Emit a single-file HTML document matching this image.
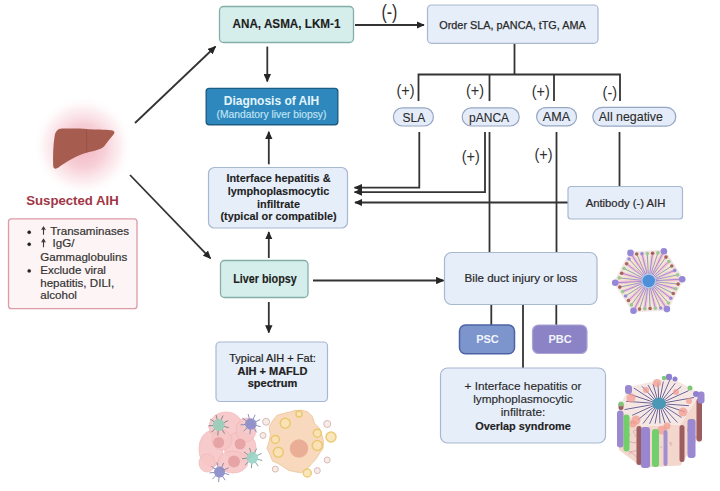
<!DOCTYPE html>
<html><head><meta charset="utf-8">
<style>
html,body{margin:0;padding:0;background:#fff;}
body{width:720px;height:491px;overflow:hidden;position:relative;font-family:"Liberation Sans",sans-serif;}
svg{position:absolute;left:0;top:0;}
text{font-family:"Liberation Sans",sans-serif;}
</style></head>
<body>
<svg width="720" height="491" viewBox="0 0 720 491">
<defs>
  <radialGradient id="glow" cx="0.5" cy="0.5" r="0.5">
    <stop offset="0" stop-color="#f3b2c0" stop-opacity="1"/>
    <stop offset="0.45" stop-color="#f6c8d1" stop-opacity="0.85"/>
    <stop offset="0.75" stop-color="#fae0e5" stop-opacity="0.5"/>
    <stop offset="1" stop-color="#ffffff" stop-opacity="0"/>
  </radialGradient>
  <filter id="soft" x="-10%" y="-10%" width="120%" height="120%"><feGaussianBlur stdDeviation="0.7"/></filter>
  <marker id="ah" viewBox="0 0 10 9" refX="9" refY="4.5" markerWidth="4.6" markerHeight="4.14" orient="auto-start-reverse" markerUnits="strokeWidth">
    <path d="M0,0 L10,4.5 L0,9 z" fill="#262626"/>
  </marker>
</defs>

<!-- liver glow -->
<circle cx="83" cy="146" r="50" fill="url(#glow)"/>
<!-- liver -->
<path d="M62,128.6 C75,128.3 86,128.6 88,129.2 C95,129.4 105,129.6 111,130.2 C114.5,130.6 115.3,132 113.5,134.5 C110,138.5 107,142.5 104,146.5 C100,150 93,151.2 87,152.6 C77,155.2 66,162 58.5,167.6 C55.5,169.6 53.3,168.8 53.2,165.5 C52.8,156 53.2,145 54.6,136.5 C55.4,131.5 57.5,128.8 62,128.6 Z" fill="#a65c4e"/>
<path d="M86.5,130 C86.8,138 86.6,146 86.8,153" stroke="#8a4a3e" stroke-width="0.6" fill="none" opacity="0.8"/>

<text x="72.5" y="205" font-size="13.2" font-weight="bold" fill="#a03646" text-anchor="middle">Suspected AIH</text>

<!-- bullet box -->
<rect x="8.5" y="218.8" width="128.5" height="89.9" rx="3" fill="#fdf4f5" stroke="#dc9ca8" stroke-width="1.3"/>
<g font-size="11.6" fill="#333" stroke="#333" stroke-width="0.2">
  <circle cx="29.2" cy="232.3" r="1.7" fill="#222"/>
  <circle cx="29.2" cy="244.3" r="1.7" fill="#222"/>
  <circle cx="29.2" cy="270.9" r="1.7" fill="#222"/>
  <path d="M43.5,234.8 V227.6 M41.7,230 L43.5,227 L45.3,230" stroke="#383838" stroke-width="1.1" fill="none"/>
  <path d="M43.5,247.2 V240 M41.7,242.4 L43.5,239.4 L45.3,242.4" stroke="#383838" stroke-width="1.1" fill="none"/>
  <text x="50.2" y="234.8">Transaminases</text>
  <text x="52.6" y="247.2">IgG/</text>
  <text x="40.2" y="260.5">Gammaglobulins</text>
  <text x="40.2" y="274">Exclude viral</text>
  <text x="40.2" y="286.8">hepatitis, DILI,</text>
  <text x="40.2" y="299.3">alcohol</text>
</g>

<!-- lines/arrows -->
<g stroke="#333" stroke-width="1.8" fill="none">
  <line x1="135" y1="123" x2="215.5" y2="46.5" marker-end="url(#ah)"/>
  <line x1="130" y1="175" x2="210.5" y2="258.5" marker-end="url(#ah)"/>
  <line x1="267.3" y1="46.6" x2="267.3" y2="81.5" marker-end="url(#ah)"/>
  <line x1="268.8" y1="164.3" x2="268.8" y2="131.8" marker-end="url(#ah)"/>
  <line x1="268.8" y1="258" x2="268.8" y2="232" marker-end="url(#ah)"/>
  <line x1="268.8" y1="302" x2="268.8" y2="332.6" marker-end="url(#ah)"/>
  <line x1="313" y1="280.5" x2="443.5" y2="280.5" marker-end="url(#ah)"/>
  <line x1="355" y1="25" x2="424" y2="25" marker-end="url(#ah)"/>
  <!-- tree -->
  <line x1="514.5" y1="43" x2="514.5" y2="74.5"/>
  <polyline points="418.5,101 418.5,74.5 620,74.5 620,101"/>
  <line x1="489.5" y1="74.5" x2="489.5" y2="101"/>
  <line x1="554" y1="74.5" x2="554" y2="101"/>
  <!-- from pills -->
  <polyline points="419.3,132 419.3,187.7 354.5,187.7" marker-end="url(#ah)"/>
  <polyline points="485,132 485,192.1 354.5,192.1" marker-end="url(#ah)"/>
  <line x1="489.5" y1="132" x2="489.5" y2="252.5"/>
  <line x1="556.5" y1="132" x2="556.5" y2="252.5"/>
  <line x1="568" y1="202.5" x2="355" y2="202.5" marker-end="url(#ah)"/>
  <line x1="619.5" y1="132" x2="619.5" y2="186.5"/>
  <!-- below bile duct -->
  <line x1="491.3" y1="304.5" x2="491.3" y2="325"/>
  <line x1="523" y1="304.5" x2="523" y2="368"/>
  <line x1="556.3" y1="304.5" x2="556.3" y2="325"/>
</g>

<!-- ANA box -->
<rect x="219.5" y="6.5" width="134" height="36" rx="4" fill="#d5eeeb" stroke="#84aea8" stroke-width="1.3"/>
<text transform="translate(286.5,27.9) scale(1,1.1)" font-size="11.7" font-weight="bold" fill="#1e1e1e" stroke="#1e1e1e" stroke-width="0.12" text-anchor="middle">ANA, ASMA, LKM-1</text>

<text x="0" y="0" font-size="16" fill="#2e2e2e" text-anchor="middle" transform="translate(389.4,18.8) scale(1,1.22)">(-)</text>

<!-- Order box -->
<rect x="427.5" y="5" width="170.5" height="38.3" rx="4" fill="#e6eefa" stroke="#a8b8d0" stroke-width="1.2"/>
<text x="512.5" y="28.5" font-size="10.85" fill="#2a2a2a" stroke="#2a2a2a" stroke-width="0.25" text-anchor="middle">Order SLA, pANCA, tTG, AMA</text>

<!-- Diagnosis box -->
<rect x="206.2" y="88.4" width="131.6" height="36.4" rx="3" fill="#2e88bd" stroke="#1d5d84" stroke-width="1.4"/>
<text x="271.5" y="104.6" font-size="12" font-weight="bold" fill="#e4f5fc" text-anchor="middle">Diagnosis of AIH</text>
<text x="271.5" y="117.8" font-size="10.3" fill="#c2e4f4" stroke="#c2e4f4" stroke-width="0.15" text-anchor="middle">(Mandatory liver biopsy)</text>

<!-- (+) labels -->
<g font-size="14.5" fill="#303030" text-anchor="middle">
  <text transform="translate(405.6,96.3) scale(1,1.12)">(+)</text>
  <text transform="translate(475,95.6) scale(1,1.12)">(+)</text>
  <text transform="translate(540.8,97.3) scale(1,1.12)">(+)</text>
  <text transform="translate(609.8,97.8) scale(1,1.12)">(-)</text>
  <text transform="translate(470.8,161.7) scale(1,1.12)">(+)</text>
  <text transform="translate(543.6,159.8) scale(1,1.12)">(+)</text>
</g>

<!-- pills -->
<g fill="#e4ecf9" stroke="#95a6c2" stroke-width="1.2">
  <rect x="393.4" y="107.8" width="40" height="18.2" rx="9.1"/>
  <rect x="462.2" y="107.8" width="57" height="18.2" rx="9.1"/>
  <rect x="536.6" y="107.6" width="40" height="18.2" rx="9.1"/>
  <rect x="592.8" y="107.3" width="83" height="18.8" rx="9.4"/>
</g>
<g font-size="12" fill="#2a2a2a" stroke="#2a2a2a" stroke-width="0.1" text-anchor="middle">
  <text x="413.8" y="121.6">SLA</text>
  <text x="489.1" y="121.6">pANCA</text>
  <text x="556.5" y="120.8" font-size="12.6">AMA</text>
  <text x="630.9" y="120.9" font-size="12.4">All negative</text>
</g>

<!-- Interface box -->
<rect x="208.5" y="167.5" width="139" height="60.5" rx="6" fill="#e6eefa" stroke="#a8b8d0" stroke-width="1.2"/>
<g font-size="10.9" font-weight="bold" fill="#1e1e1e" stroke="#1e1e1e" stroke-width="0.12" text-anchor="middle">
  <text x="278.5" y="182">Interface hepatitis &amp;</text>
  <text x="278.5" y="194.5">lymphoplasmocytic</text>
  <text x="278.5" y="207.5">infiltrate</text>
  <text x="278.5" y="220.2">(typical or compatible)</text>
</g>

<!-- Antibody box -->
<rect x="568" y="186.5" width="114.5" height="32.5" rx="3" fill="#e6eefa" stroke="#a8b8d0" stroke-width="1.2"/>
<text x="625.5" y="206.5" font-size="11.3" fill="#2a2a2a" stroke="#2a2a2a" stroke-width="0.22" text-anchor="middle">Antibody (-) AIH</text>

<!-- Liver biopsy -->
<rect x="220.5" y="260.5" width="87.5" height="37" rx="4" fill="#d5eeeb" stroke="#84aea8" stroke-width="1.3"/>
<text transform="translate(265,282.6) scale(1,1.1)" font-size="10.8" font-weight="bold" fill="#1e1e1e" stroke="#1e1e1e" stroke-width="0.12" text-anchor="middle">Liver biopsy</text>

<!-- Bile duct -->
<rect x="444.5" y="252.5" width="152.5" height="52" rx="7" fill="#e6eefa" stroke="#a8b8d0" stroke-width="1.2"/>
<text x="521" y="282" font-size="11.6" fill="#2a2a2a" stroke="#2a2a2a" stroke-width="0.22" text-anchor="middle">Bile duct injury or loss</text>

<!-- PSC/PBC -->
<rect x="459.5" y="325" width="55" height="28.7" rx="6" fill="#7d95cd" stroke="#4b63a3" stroke-width="1.5"/>
<text x="487.5" y="343" font-size="11" font-weight="bold" fill="#f2f4fb" text-anchor="middle">PSC</text>
<rect x="532.5" y="325" width="54.5" height="28.5" rx="6" fill="#8b83c6" stroke="#a9a3d6" stroke-width="1.2"/>
<text x="560" y="343" font-size="11" font-weight="bold" fill="#f2f4fb" text-anchor="middle">PBC</text>

<!-- Typical AIH + Fat -->
<rect x="216" y="342" width="111.5" height="59.5" rx="4" fill="#e6eefa" stroke="#a8b8d0" stroke-width="1.2"/>
<g font-size="11" fill="#222" stroke="#222" stroke-width="0.2" text-anchor="middle">
  <text x="272.5" y="362">Typical AIH + Fat:</text>
  <text x="272.5" y="374.8" font-weight="bold">AIH + MAFLD</text>
  <text x="272.5" y="387.3" font-weight="bold">spectrum</text>
</g>

<!-- Overlap box -->
<rect x="440.5" y="368" width="165" height="75" rx="7" fill="#e6eefa" stroke="#a8b8d0" stroke-width="1.2"/>
<g font-size="11.8" fill="#2a2a2a" stroke="#2a2a2a" stroke-width="0.15" text-anchor="middle">
  <text x="523" y="389.8">+ Interface hepatitis or</text>
  <text x="523" y="403">lymphoplasmocytic</text>
  <text x="523" y="416.3">infiltrate:</text>
  <text x="523" y="429.8" font-weight="bold" font-size="10.9" fill="#222">Overlap syndrome</text>
</g>

<!-- ILLUSTRATIONS -->
<g id="hex1" filter="url(#soft)">
<polygon points="682.2,279.2 663.9,251.2 630.5,252.9 615.2,282.8 633.5,310.8 666.9,309.1" fill="#f7e6e6" stroke="#f3e4e4" stroke-width="3" stroke-linejoin="round"/>
<line x1="653.7" y1="280.7" x2="682.2" y2="279.2" stroke="#f4c2d2" stroke-width="3.4"/>
<line x1="653.6" y1="280.0" x2="677.6" y2="274.9" stroke="#eeecc0" stroke-width="3.4"/>
<line x1="653.3" y1="279.1" x2="674.7" y2="270.4" stroke="#f2c8d6" stroke-width="3.4"/>
<line x1="652.9" y1="278.3" x2="671.8" y2="266.0" stroke="#e6efc2" stroke-width="3.4"/>
<line x1="652.3" y1="277.5" x2="668.9" y2="261.5" stroke="#f5c6d4" stroke-width="3.4"/>
<line x1="651.6" y1="277.0" x2="666.0" y2="257.1" stroke="#efe9c0" stroke-width="3.4"/>
<line x1="651.0" y1="276.5" x2="663.9" y2="251.2" stroke="#f4c2d2" stroke-width="3.4"/>
<line x1="650.2" y1="276.2" x2="657.9" y2="252.9" stroke="#eeecc0" stroke-width="3.4"/>
<line x1="649.4" y1="276.0" x2="652.6" y2="253.2" stroke="#f2c8d6" stroke-width="3.4"/>
<line x1="648.4" y1="276.0" x2="647.3" y2="253.5" stroke="#e6efc2" stroke-width="3.4"/>
<line x1="647.5" y1="276.1" x2="642.0" y2="253.8" stroke="#f5c6d4" stroke-width="3.4"/>
<line x1="646.7" y1="276.4" x2="636.7" y2="254.0" stroke="#efe9c0" stroke-width="3.4"/>
<line x1="646.0" y1="276.8" x2="630.5" y2="252.9" stroke="#f4c2d2" stroke-width="3.4"/>
<line x1="645.4" y1="277.3" x2="629.0" y2="259.0" stroke="#eeecc0" stroke-width="3.4"/>
<line x1="644.8" y1="277.9" x2="626.6" y2="263.8" stroke="#f2c8d6" stroke-width="3.4"/>
<line x1="644.2" y1="278.7" x2="624.1" y2="268.5" stroke="#e6efc2" stroke-width="3.4"/>
<line x1="643.9" y1="279.6" x2="621.7" y2="273.2" stroke="#f5c6d4" stroke-width="3.4"/>
<line x1="643.7" y1="280.5" x2="619.3" y2="277.9" stroke="#efe9c0" stroke-width="3.4"/>
<line x1="643.7" y1="281.3" x2="615.2" y2="282.8" stroke="#f4c2d2" stroke-width="3.4"/>
<line x1="643.8" y1="282.0" x2="619.8" y2="287.1" stroke="#eeecc0" stroke-width="3.4"/>
<line x1="644.1" y1="282.9" x2="622.7" y2="291.6" stroke="#f2c8d6" stroke-width="3.4"/>
<line x1="644.5" y1="283.7" x2="625.6" y2="296.0" stroke="#e6efc2" stroke-width="3.4"/>
<line x1="645.1" y1="284.5" x2="628.5" y2="300.5" stroke="#f5c6d4" stroke-width="3.4"/>
<line x1="645.8" y1="285.0" x2="631.4" y2="304.9" stroke="#efe9c0" stroke-width="3.4"/>
<line x1="646.4" y1="285.5" x2="633.5" y2="310.8" stroke="#f4c2d2" stroke-width="3.4"/>
<line x1="647.2" y1="285.8" x2="639.5" y2="309.1" stroke="#eeecc0" stroke-width="3.4"/>
<line x1="648.0" y1="286.0" x2="644.8" y2="308.8" stroke="#f2c8d6" stroke-width="3.4"/>
<line x1="649.0" y1="286.0" x2="650.1" y2="308.5" stroke="#e6efc2" stroke-width="3.4"/>
<line x1="649.9" y1="285.9" x2="655.4" y2="308.2" stroke="#f5c6d4" stroke-width="3.4"/>
<line x1="650.7" y1="285.6" x2="660.7" y2="308.0" stroke="#efe9c0" stroke-width="3.4"/>
<line x1="651.4" y1="285.2" x2="666.9" y2="309.1" stroke="#f4c2d2" stroke-width="3.4"/>
<line x1="652.0" y1="284.7" x2="668.4" y2="303.0" stroke="#eeecc0" stroke-width="3.4"/>
<line x1="652.6" y1="284.1" x2="670.8" y2="298.2" stroke="#f2c8d6" stroke-width="3.4"/>
<line x1="653.2" y1="283.3" x2="673.3" y2="293.5" stroke="#e6efc2" stroke-width="3.4"/>
<line x1="653.5" y1="282.4" x2="675.7" y2="288.8" stroke="#f5c6d4" stroke-width="3.4"/>
<line x1="653.7" y1="281.5" x2="678.1" y2="284.1" stroke="#efe9c0" stroke-width="3.4"/>
<path d="M653.7,280.7 L667.1,280.0 L682.2,279.2" stroke="#9a86d2" stroke-width="0.9" fill="none"/>
<path d="M653.6,280.0 L664.6,277.6 L677.6,274.9" stroke="#9a86d2" stroke-width="0.9" fill="none"/>
<path d="M653.3,279.1 L663.0,275.2 L674.7,270.4" stroke="#9a86d2" stroke-width="0.9" fill="none"/>
<path d="M652.9,278.3 L661.4,272.7 L671.8,266.0" stroke="#9a86d2" stroke-width="0.9" fill="none"/>
<path d="M652.3,277.5 L659.8,270.3 L668.9,261.5" stroke="#9a86d2" stroke-width="0.9" fill="none"/>
<path d="M651.6,277.0 L658.2,267.9 L666.0,257.1" stroke="#9a86d2" stroke-width="0.9" fill="none"/>
<path d="M651.0,276.5 L657.1,264.6 L663.9,251.2" stroke="#9a86d2" stroke-width="0.9" fill="none"/>
<path d="M650.2,276.2 L653.7,265.6 L657.9,252.9" stroke="#9a86d2" stroke-width="0.9" fill="none"/>
<path d="M649.4,276.0 L650.8,265.7 L652.6,253.2" stroke="#9a86d2" stroke-width="0.9" fill="none"/>
<path d="M648.4,276.0 L647.9,265.9 L647.3,253.5" stroke="#9a86d2" stroke-width="0.9" fill="none"/>
<path d="M647.5,276.1 L645.0,266.0 L642.0,253.8" stroke="#9a86d2" stroke-width="0.9" fill="none"/>
<path d="M646.7,276.4 L642.1,266.2 L636.7,254.0" stroke="#9a86d2" stroke-width="0.9" fill="none"/>
<path d="M646.0,276.8 L638.7,265.5 L630.5,252.9" stroke="#9a86d2" stroke-width="0.9" fill="none"/>
<path d="M645.4,277.3 L637.8,268.9 L629.0,259.0" stroke="#9a86d2" stroke-width="0.9" fill="none"/>
<path d="M644.8,277.9 L636.5,271.5 L626.6,263.8" stroke="#9a86d2" stroke-width="0.9" fill="none"/>
<path d="M644.2,278.7 L635.2,274.1 L624.1,268.5" stroke="#9a86d2" stroke-width="0.9" fill="none"/>
<path d="M643.9,279.6 L633.9,276.7 L621.7,273.2" stroke="#9a86d2" stroke-width="0.9" fill="none"/>
<path d="M643.7,280.5 L632.5,279.3 L619.3,277.9" stroke="#9a86d2" stroke-width="0.9" fill="none"/>
<path d="M643.7,281.3 L630.3,282.0 L615.2,282.8" stroke="#9a86d2" stroke-width="0.9" fill="none"/>
<path d="M643.8,282.0 L632.8,284.4 L619.8,287.1" stroke="#9a86d2" stroke-width="0.9" fill="none"/>
<path d="M644.1,282.9 L634.4,286.8 L622.7,291.6" stroke="#9a86d2" stroke-width="0.9" fill="none"/>
<path d="M644.5,283.7 L636.0,289.3 L625.6,296.0" stroke="#9a86d2" stroke-width="0.9" fill="none"/>
<path d="M645.1,284.5 L637.6,291.7 L628.5,300.5" stroke="#9a86d2" stroke-width="0.9" fill="none"/>
<path d="M645.8,285.0 L639.2,294.1 L631.4,304.9" stroke="#9a86d2" stroke-width="0.9" fill="none"/>
<path d="M646.4,285.5 L640.3,297.4 L633.5,310.8" stroke="#9a86d2" stroke-width="0.9" fill="none"/>
<path d="M647.2,285.8 L643.7,296.4 L639.5,309.1" stroke="#9a86d2" stroke-width="0.9" fill="none"/>
<path d="M648.0,286.0 L646.6,296.3 L644.8,308.8" stroke="#9a86d2" stroke-width="0.9" fill="none"/>
<path d="M649.0,286.0 L649.5,296.1 L650.1,308.5" stroke="#9a86d2" stroke-width="0.9" fill="none"/>
<path d="M649.9,285.9 L652.4,296.0 L655.4,308.2" stroke="#9a86d2" stroke-width="0.9" fill="none"/>
<path d="M650.7,285.6 L655.3,295.8 L660.7,308.0" stroke="#9a86d2" stroke-width="0.9" fill="none"/>
<path d="M651.4,285.2 L658.7,296.5 L666.9,309.1" stroke="#9a86d2" stroke-width="0.9" fill="none"/>
<path d="M652.0,284.7 L659.6,293.1 L668.4,303.0" stroke="#9a86d2" stroke-width="0.9" fill="none"/>
<path d="M652.6,284.1 L660.9,290.5 L670.8,298.2" stroke="#9a86d2" stroke-width="0.9" fill="none"/>
<path d="M653.2,283.3 L662.2,287.9 L673.3,293.5" stroke="#9a86d2" stroke-width="0.9" fill="none"/>
<path d="M653.5,282.4 L663.5,285.3 L675.7,288.8" stroke="#9a86d2" stroke-width="0.9" fill="none"/>
<path d="M653.7,281.5 L664.9,282.7 L678.1,284.1" stroke="#9a86d2" stroke-width="0.9" fill="none"/>
<circle cx="682.2" cy="279.2" r="3.3" fill="#9588d8"/>
<circle cx="677.6" cy="274.9" r="1.8" fill="#9dcb8f"/>
<circle cx="674.7" cy="270.4" r="1.8" fill="#9a8bd8"/>
<circle cx="671.8" cy="266.0" r="1.8" fill="#a8685e"/>
<circle cx="668.9" cy="261.5" r="1.8" fill="#98c88c"/>
<circle cx="666.0" cy="257.1" r="1.8" fill="#a5605a"/>
<circle cx="663.9" cy="251.2" r="3.3" fill="#9588d8"/>
<circle cx="657.9" cy="252.9" r="1.8" fill="#98c88c"/>
<circle cx="652.6" cy="253.2" r="1.8" fill="#a5605a"/>
<circle cx="647.3" cy="253.5" r="1.8" fill="#9dcb8f"/>
<circle cx="642.0" cy="253.8" r="1.8" fill="#9a8bd8"/>
<circle cx="636.7" cy="254.0" r="1.8" fill="#a8685e"/>
<circle cx="630.5" cy="252.9" r="3.3" fill="#9588d8"/>
<circle cx="629.0" cy="259.0" r="1.8" fill="#9a8bd8"/>
<circle cx="626.6" cy="263.8" r="1.8" fill="#a8685e"/>
<circle cx="624.1" cy="268.5" r="1.8" fill="#98c88c"/>
<circle cx="621.7" cy="273.2" r="1.8" fill="#a5605a"/>
<circle cx="619.3" cy="277.9" r="1.8" fill="#9dcb8f"/>
<circle cx="615.2" cy="282.8" r="3.3" fill="#9588d8"/>
<circle cx="619.8" cy="287.1" r="1.8" fill="#a5605a"/>
<circle cx="622.7" cy="291.6" r="1.8" fill="#9dcb8f"/>
<circle cx="625.6" cy="296.0" r="1.8" fill="#9a8bd8"/>
<circle cx="628.5" cy="300.5" r="1.8" fill="#a8685e"/>
<circle cx="631.4" cy="304.9" r="1.8" fill="#98c88c"/>
<circle cx="633.5" cy="310.8" r="3.3" fill="#9588d8"/>
<circle cx="639.5" cy="309.1" r="1.8" fill="#a8685e"/>
<circle cx="644.8" cy="308.8" r="1.8" fill="#98c88c"/>
<circle cx="650.1" cy="308.5" r="1.8" fill="#a5605a"/>
<circle cx="655.4" cy="308.2" r="1.8" fill="#9dcb8f"/>
<circle cx="660.7" cy="308.0" r="1.8" fill="#9a8bd8"/>
<circle cx="666.9" cy="309.1" r="3.3" fill="#9588d8"/>
<circle cx="668.4" cy="303.0" r="1.8" fill="#9dcb8f"/>
<circle cx="670.8" cy="298.2" r="1.8" fill="#9a8bd8"/>
<circle cx="673.3" cy="293.5" r="1.8" fill="#a8685e"/>
<circle cx="675.7" cy="288.8" r="1.8" fill="#98c88c"/>
<circle cx="678.1" cy="284.1" r="1.8" fill="#a5605a"/>
<circle cx="648.7" cy="281.0" r="7.4" fill="#b3d0f0" opacity="0.8"/>
<circle cx="648.7" cy="281.0" r="6.2" fill="#4b90d8"/>
</g>
<g id="prism" filter="url(#soft)">
<clipPath id="pclip"><polygon points="619.0,409.0 642.5,426.5 680.5,424.5 700.0,393.5 700.0,434.5 680.5,465.5 642.5,467.5 619.0,450.0"/></clipPath>
<polygon points="619.0,409.0 642.5,426.5 680.5,424.5 700.0,393.5 700.0,434.5 680.5,465.5 642.5,467.5 619.0,450.0" fill="#f3d7cc"/>
<g clip-path="url(#pclip)"><path d="M656.4,443.5 q5.1,-0.3 0.2,2.3 M636.0,441.5 q1.6,2.9 -8.1,-0.3 M628.9,454.0 q2.3,-4.6 9.6,5.7 M671.7,445.9 q-4.1,-4.8 0.6,-2.5 M636.5,430.2 q-5.6,-0.4 -1.2,4.6 M661.5,446.9 q-0.0,1.6 -0.9,-0.5 M697.8,461.8 q4.1,2.1 -3.7,-0.9 M644.0,422.9 q3.2,-1.0 6.9,0.5 M694.8,455.6 q-6.0,-2.9 8.2,1.2 M696.5,436.7 q-5.1,1.3 5.6,-0.6 M628.6,434.0 q5.6,2.6 -7.6,-0.8 M629.7,422.5 q3.6,-3.2 1.2,1.0 M636.5,450.7 q-4.4,1.4 -7.7,0.8 M638.2,431.3 q5.7,3.0 -3.9,5.0" stroke="#c48aa0" stroke-width="0.8" fill="none" opacity="0.7"/></g>
<circle cx="662" cy="430" r="4.5" fill="#f19a8e" opacity="0.7"/>
<circle cx="633" cy="424" r="3.5" fill="#f19a8e" opacity="0.7"/>
<circle cx="690" cy="430" r="3" fill="#f19a8e" opacity="0.7"/>
<polygon points="671.0,377.5 628.5,387.0 619.0,409.0 642.5,426.5 680.5,424.5 700.0,393.5" fill="#f6e6e2"/>
<line x1="664.0" y1="403.9" x2="688.9" y2="405.7" stroke="#f4f0f4" stroke-width="2.2"/>
<line x1="664.0" y1="403.9" x2="688.9" y2="405.7" stroke="#6e5e8a" stroke-width="1"/>
<line x1="663.8" y1="404.8" x2="684.9" y2="411.9" stroke="#f4f0f4" stroke-width="2.2"/>
<line x1="663.8" y1="404.8" x2="684.9" y2="411.9" stroke="#6e5e8a" stroke-width="1"/>
<line x1="663.3" y1="405.7" x2="681.5" y2="417.5" stroke="#f4f0f4" stroke-width="2.2"/>
<line x1="663.3" y1="405.7" x2="681.5" y2="417.5" stroke="#6e5e8a" stroke-width="1"/>
<line x1="662.5" y1="406.5" x2="677.5" y2="422.5" stroke="#f4f0f4" stroke-width="2.2"/>
<line x1="662.5" y1="406.5" x2="677.5" y2="422.5" stroke="#6e5e8a" stroke-width="1"/>
<line x1="661.5" y1="407.0" x2="670.4" y2="422.8" stroke="#f4f0f4" stroke-width="2.2"/>
<line x1="661.5" y1="407.0" x2="670.4" y2="422.8" stroke="#6e5e8a" stroke-width="1"/>
<line x1="660.4" y1="407.4" x2="664.9" y2="423.1" stroke="#f4f0f4" stroke-width="2.2"/>
<line x1="660.4" y1="407.4" x2="664.9" y2="423.1" stroke="#6e5e8a" stroke-width="1"/>
<line x1="659.3" y1="407.6" x2="660.0" y2="423.4" stroke="#f4f0f4" stroke-width="2.2"/>
<line x1="659.3" y1="407.6" x2="660.0" y2="423.4" stroke="#6e5e8a" stroke-width="1"/>
<line x1="658.1" y1="407.5" x2="655.1" y2="423.6" stroke="#f4f0f4" stroke-width="2.2"/>
<line x1="658.1" y1="407.5" x2="655.1" y2="423.6" stroke="#6e5e8a" stroke-width="1"/>
<line x1="656.9" y1="407.2" x2="649.6" y2="423.9" stroke="#f4f0f4" stroke-width="2.2"/>
<line x1="656.9" y1="407.2" x2="649.6" y2="423.9" stroke="#6e5e8a" stroke-width="1"/>
<line x1="655.9" y1="406.7" x2="643.1" y2="423.5" stroke="#f4f0f4" stroke-width="2.2"/>
<line x1="655.9" y1="406.7" x2="643.1" y2="423.5" stroke="#6e5e8a" stroke-width="1"/>
<line x1="655.0" y1="406.0" x2="638.1" y2="419.7" stroke="#f4f0f4" stroke-width="2.2"/>
<line x1="655.0" y1="406.0" x2="638.1" y2="419.7" stroke="#6e5e8a" stroke-width="1"/>
<line x1="654.4" y1="405.2" x2="632.2" y2="415.3" stroke="#f4f0f4" stroke-width="2.2"/>
<line x1="654.4" y1="405.2" x2="632.2" y2="415.3" stroke="#6e5e8a" stroke-width="1"/>
<line x1="654.1" y1="404.3" x2="624.5" y2="409.6" stroke="#f4f0f4" stroke-width="2.2"/>
<line x1="654.1" y1="404.3" x2="624.5" y2="409.6" stroke="#6e5e8a" stroke-width="1"/>
<line x1="654.0" y1="403.3" x2="626.1" y2="401.3" stroke="#f4f0f4" stroke-width="2.2"/>
<line x1="654.0" y1="403.3" x2="626.1" y2="401.3" stroke="#6e5e8a" stroke-width="1"/>
<line x1="654.2" y1="402.4" x2="629.2" y2="394.0" stroke="#f4f0f4" stroke-width="2.2"/>
<line x1="654.2" y1="402.4" x2="629.2" y2="394.0" stroke="#6e5e8a" stroke-width="1"/>
<line x1="654.7" y1="401.5" x2="633.9" y2="388.1" stroke="#f4f0f4" stroke-width="2.2"/>
<line x1="654.7" y1="401.5" x2="633.9" y2="388.1" stroke="#6e5e8a" stroke-width="1"/>
<line x1="655.5" y1="400.7" x2="642.0" y2="386.3" stroke="#f4f0f4" stroke-width="2.2"/>
<line x1="655.5" y1="400.7" x2="642.0" y2="386.3" stroke="#6e5e8a" stroke-width="1"/>
<line x1="656.5" y1="400.2" x2="648.0" y2="385.0" stroke="#f4f0f4" stroke-width="2.2"/>
<line x1="656.5" y1="400.2" x2="648.0" y2="385.0" stroke="#6e5e8a" stroke-width="1"/>
<line x1="657.6" y1="399.8" x2="653.0" y2="383.9" stroke="#f4f0f4" stroke-width="2.2"/>
<line x1="657.6" y1="399.8" x2="653.0" y2="383.9" stroke="#6e5e8a" stroke-width="1"/>
<line x1="658.7" y1="399.6" x2="657.9" y2="382.8" stroke="#f4f0f4" stroke-width="2.2"/>
<line x1="658.7" y1="399.6" x2="657.9" y2="382.8" stroke="#6e5e8a" stroke-width="1"/>
<line x1="659.9" y1="399.7" x2="663.3" y2="381.6" stroke="#f4f0f4" stroke-width="2.2"/>
<line x1="659.9" y1="399.7" x2="663.3" y2="381.6" stroke="#6e5e8a" stroke-width="1"/>
<line x1="661.1" y1="400.0" x2="669.8" y2="380.1" stroke="#f4f0f4" stroke-width="2.2"/>
<line x1="661.1" y1="400.0" x2="669.8" y2="380.1" stroke="#6e5e8a" stroke-width="1"/>
<line x1="662.1" y1="400.5" x2="675.3" y2="383.2" stroke="#f4f0f4" stroke-width="2.2"/>
<line x1="662.1" y1="400.5" x2="675.3" y2="383.2" stroke="#6e5e8a" stroke-width="1"/>
<line x1="663.0" y1="401.2" x2="681.3" y2="386.5" stroke="#f4f0f4" stroke-width="2.2"/>
<line x1="663.0" y1="401.2" x2="681.3" y2="386.5" stroke="#6e5e8a" stroke-width="1"/>
<line x1="663.6" y1="402.0" x2="688.7" y2="390.6" stroke="#f4f0f4" stroke-width="2.2"/>
<line x1="663.6" y1="402.0" x2="688.7" y2="390.6" stroke="#6e5e8a" stroke-width="1"/>
<line x1="663.9" y1="402.9" x2="694.0" y2="397.5" stroke="#f4f0f4" stroke-width="2.2"/>
<line x1="663.9" y1="402.9" x2="694.0" y2="397.5" stroke="#6e5e8a" stroke-width="1"/>
<circle cx="631" cy="398" r="4.5" fill="#f29c90" opacity="0.75"/>
<circle cx="636" cy="420" r="4.5" fill="#f29c90" opacity="0.75"/>
<circle cx="657" cy="383" r="4" fill="#f29c90" opacity="0.75"/>
<circle cx="683" cy="412" r="4.5" fill="#f29c90" opacity="0.75"/>
<circle cx="667" cy="426" r="3.5" fill="#f29c90" opacity="0.75"/>
<circle cx="646" cy="390" r="3" fill="#f29c90" opacity="0.75"/>
<circle cx="676" cy="392" r="3" fill="#f29c90" opacity="0.75"/>
<circle cx="689" cy="401" r="3" fill="#f29c90" opacity="0.75"/>
<ellipse cx="659" cy="403.6" rx="7" ry="6" fill="#4c98b6"/>
<rect x="617" y="410.5" width="6.5" height="37" rx="3.0" fill="#9a88d0"/>
<rect x="623.5" y="414.5" width="6" height="37" rx="3.0" fill="#6fcf69"/>
<rect x="636.5" y="426" width="5" height="39" rx="2.5" fill="#9c5c60"/>
<rect x="641" y="427" width="9" height="41" rx="3.0" fill="#9a86cf"/>
<rect x="652" y="429" width="7" height="38" rx="3.0" fill="#72cf6e"/>
<rect x="679.5" y="425" width="5" height="37" rx="2.5" fill="#9c5c60"/>
<rect x="687.5" y="419" width="8" height="39" rx="3.0" fill="#9a88d0"/>
<rect x="696.5" y="398.5" width="5.5" height="43" rx="2.8" fill="#9c5c60"/>
<rect x="697.5" y="391.5" width="7" height="12" rx="3.0" fill="#9a88d0"/>
<rect x="625" y="385" width="7" height="9" rx="3.0" fill="#9a88d0"/>
<rect x="618.5" y="402" width="5" height="8" rx="2.5" fill="#9c5c60"/>
<rect x="663.5" y="430" width="4" height="36" rx="2.0" fill="#a090d0"/>
<circle cx="669" cy="377" r="3.2" fill="#8e7fd0"/>
<circle cx="675" cy="379" r="2.5" fill="#8e7fd0"/>
<circle cx="664" cy="378" r="2.2" fill="#7cc877"/>
<circle cx="621" cy="404" r="2.5" fill="#7cc877"/>
<circle cx="690" cy="388" r="2.5" fill="#7cc877"/>
<circle cx="696" cy="394" r="3" fill="#8e7fd0"/>
</g>
<g id="cells" filter="url(#soft)">
<g opacity="0.8">
<ellipse cx="226" cy="427" rx="17" ry="15" fill="#f4b8b7" stroke="#eca3a6" stroke-width="0.8" opacity="0.9"/>
<ellipse cx="211" cy="449" rx="12" ry="18" fill="#f4b8b7" stroke="#eca3a6" stroke-width="0.8" opacity="0.9"/>
<ellipse cx="240" cy="447" rx="16" ry="15" fill="#f4b8b7" stroke="#eca3a6" stroke-width="0.8" opacity="0.9"/>
<ellipse cx="233" cy="462" rx="15" ry="11" fill="#f4b8b7" stroke="#eca3a6" stroke-width="0.8" opacity="0.9"/>
<ellipse cx="246" cy="430" rx="10" ry="12" fill="#f4b8b7" stroke="#eca3a6" stroke-width="0.8" opacity="0.9"/>
<ellipse cx="207" cy="463" rx="8" ry="9" fill="#f4b8b7" stroke="#eca3a6" stroke-width="0.8" opacity="0.9"/>
<ellipse cx="222" cy="440" rx="10" ry="10" fill="#f4b8b7" stroke="#eca3a6" stroke-width="0.8" opacity="0.9"/>
<circle cx="218.7" cy="442.5" r="5.5" fill="#e28e90"/>
<circle cx="240.1" cy="444" r="5.5" fill="#e28e90"/>
<circle cx="234" cy="461.6" r="6" fill="#e28e90"/>
</g>
<g opacity="0.85">
<line x1="222.2" y1="425.9" x2="228.8" y2="427.7" stroke="#6a7f88" stroke-width="1"/>
<line x1="220.8" y1="427.9" x2="224.7" y2="433.6" stroke="#6a7f88" stroke-width="1"/>
<line x1="218.4" y1="428.6" x2="217.8" y2="435.5" stroke="#6a7f88" stroke-width="1"/>
<line x1="216.2" y1="427.5" x2="211.3" y2="432.4" stroke="#6a7f88" stroke-width="1"/>
<line x1="215.1" y1="425.3" x2="208.2" y2="425.9" stroke="#6a7f88" stroke-width="1"/>
<line x1="215.8" y1="422.9" x2="210.1" y2="419.0" stroke="#6a7f88" stroke-width="1"/>
<line x1="217.8" y1="421.5" x2="216.0" y2="414.9" stroke="#6a7f88" stroke-width="1"/>
<line x1="220.2" y1="421.7" x2="223.1" y2="415.5" stroke="#6a7f88" stroke-width="1"/>
<line x1="222.0" y1="423.5" x2="228.2" y2="420.6" stroke="#6a7f88" stroke-width="1"/>
<circle cx="218.7" cy="425" r="6" fill="#8fcfb8"/>
<line x1="254.2" y1="424.9" x2="260.7" y2="426.7" stroke="#7a80b0" stroke-width="1"/>
<line x1="252.8" y1="426.9" x2="256.7" y2="432.4" stroke="#7a80b0" stroke-width="1"/>
<line x1="250.5" y1="427.5" x2="249.9" y2="434.3" stroke="#7a80b0" stroke-width="1"/>
<line x1="248.3" y1="426.5" x2="243.5" y2="431.3" stroke="#7a80b0" stroke-width="1"/>
<line x1="247.3" y1="424.3" x2="240.5" y2="424.9" stroke="#7a80b0" stroke-width="1"/>
<line x1="247.9" y1="422.0" x2="242.4" y2="418.1" stroke="#7a80b0" stroke-width="1"/>
<line x1="249.9" y1="420.6" x2="248.1" y2="414.1" stroke="#7a80b0" stroke-width="1"/>
<line x1="252.3" y1="420.8" x2="255.2" y2="414.7" stroke="#7a80b0" stroke-width="1"/>
<line x1="254.0" y1="422.5" x2="260.1" y2="419.6" stroke="#7a80b0" stroke-width="1"/>
<circle cx="250.8" cy="424" r="5.8" fill="#7f88c8"/>
<line x1="255.7" y1="458.7" x2="262.2" y2="460.5" stroke="#6a8f8f" stroke-width="1"/>
<line x1="254.3" y1="460.7" x2="258.2" y2="466.2" stroke="#6a8f8f" stroke-width="1"/>
<line x1="252.0" y1="461.3" x2="251.4" y2="468.1" stroke="#6a8f8f" stroke-width="1"/>
<line x1="249.8" y1="460.3" x2="245.0" y2="465.1" stroke="#6a8f8f" stroke-width="1"/>
<line x1="248.8" y1="458.1" x2="242.0" y2="458.7" stroke="#6a8f8f" stroke-width="1"/>
<line x1="249.4" y1="455.8" x2="243.9" y2="451.9" stroke="#6a8f8f" stroke-width="1"/>
<line x1="251.4" y1="454.4" x2="249.6" y2="447.9" stroke="#6a8f8f" stroke-width="1"/>
<line x1="253.8" y1="454.6" x2="256.7" y2="448.5" stroke="#6a8f8f" stroke-width="1"/>
<line x1="255.5" y1="456.3" x2="261.6" y2="453.4" stroke="#6a8f8f" stroke-width="1"/>
<circle cx="252.3" cy="457.8" r="5.8" fill="#92d2c2"/>
<line x1="222.7" y1="472.9" x2="229.2" y2="474.6" stroke="#7a7cab" stroke-width="1"/>
<line x1="221.4" y1="474.7" x2="225.2" y2="480.2" stroke="#7a7cab" stroke-width="1"/>
<line x1="219.2" y1="475.3" x2="218.6" y2="482.0" stroke="#7a7cab" stroke-width="1"/>
<line x1="217.2" y1="474.3" x2="212.4" y2="479.1" stroke="#7a7cab" stroke-width="1"/>
<line x1="216.2" y1="472.3" x2="209.5" y2="472.9" stroke="#7a7cab" stroke-width="1"/>
<line x1="216.8" y1="470.1" x2="211.3" y2="466.3" stroke="#7a7cab" stroke-width="1"/>
<line x1="218.6" y1="468.8" x2="216.9" y2="462.3" stroke="#7a7cab" stroke-width="1"/>
<line x1="220.9" y1="469.0" x2="223.7" y2="462.9" stroke="#7a7cab" stroke-width="1"/>
<line x1="222.5" y1="470.6" x2="228.6" y2="467.8" stroke="#7a7cab" stroke-width="1"/>
<circle cx="219.5" cy="472" r="5.5" fill="#7f82c2"/>
</g>
<path d="M323.4,441.0 L323.0,448.2 L319.0,454.0 L315.6,459.5 L311.3,464.1 L306.9,468.9 L301.4,472.7 L295.0,471.8 L289.0,470.4 L283.8,467.2 L278.8,463.8 L272.6,461.1 L270.0,454.6 L266.9,448.2 L269.3,441.0 L270.4,434.7 L269.1,426.9 L272.6,420.9 L276.9,415.4 L283.2,413.5 L289.2,412.2 L295.0,410.6 L301.2,410.2 L307.5,411.8 L312.3,416.5 L314.6,423.4 L319.2,427.9 L321.6,434.2 Z" fill="#f9d6b8" stroke="#ecc59a" stroke-width="1" stroke-linejoin="round" opacity="0.92"/>
<circle cx="299" cy="448.5" r="9.2" fill="#e8a58f" opacity="0.85"/>
<circle cx="285.2" cy="423.3" r="5" fill="#fbe3b6" stroke="#e8c766" stroke-width="1.5" opacity="0.9"/>
<circle cx="275.3" cy="439.4" r="4" fill="#fbe3b6" stroke="#e8c766" stroke-width="1.5" opacity="0.9"/>
<circle cx="278.3" cy="452.3" r="5" fill="#fbe3b6" stroke="#e8c766" stroke-width="1.5" opacity="0.9"/>
<circle cx="317.3" cy="445.5" r="5" fill="#fbe3b6" stroke="#e8c766" stroke-width="1.5" opacity="0.9"/>
<circle cx="317.3" cy="433.2" r="4" fill="#fbe3b6" stroke="#e8c766" stroke-width="1.5" opacity="0.9"/>
<circle cx="331" cy="437" r="5" fill="#fbe3b6" stroke="#e8c766" stroke-width="1.5" opacity="0.9"/>
<circle cx="307.3" cy="473" r="4" fill="#fbe3b6" stroke="#e8c766" stroke-width="1.5" opacity="0.9"/>
<circle cx="299" cy="414" r="3" fill="#fbe3b6" stroke="#e8c766" stroke-width="1.5" opacity="0.9"/>
<circle cx="266.1" cy="421.8" r="3.5" fill="#f7ece8" stroke="#d8b9b2" stroke-width="1"/>
<circle cx="263" cy="435.5" r="3" fill="#f7ece8" stroke="#d8b9b2" stroke-width="1"/>
<circle cx="327.2" cy="424" r="3.5" fill="#f7ece8" stroke="#d8b9b2" stroke-width="1"/>
<circle cx="327.2" cy="460" r="3" fill="#f7ece8" stroke="#d8b9b2" stroke-width="1"/>
<circle cx="275.3" cy="469.1" r="3" fill="#f7ece8" stroke="#d8b9b2" stroke-width="1"/>
<circle cx="317.3" cy="470.6" r="3" fill="#f7ece8" stroke="#d8b9b2" stroke-width="1"/>
</g>
</svg>
</body></html>
